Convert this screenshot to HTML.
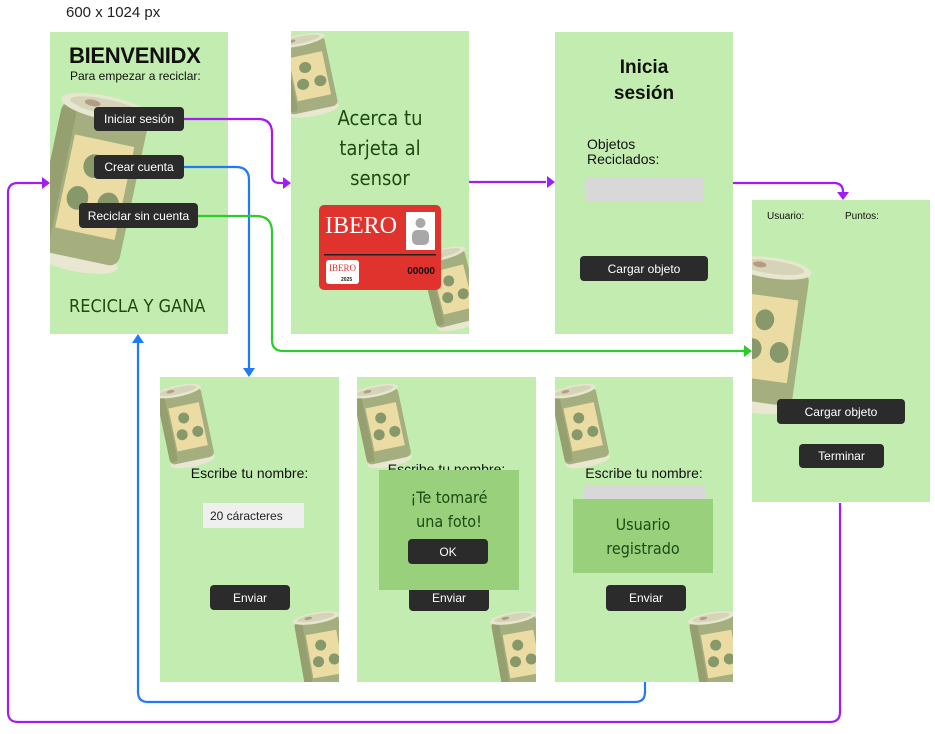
<!DOCTYPE html>
<html><head><meta charset="utf-8"><style>
*{margin:0;padding:0;box-sizing:border-box}
body{width:935px;height:734px;background:#fff;position:relative;overflow:hidden;font-family:"Liberation Sans","DejaVu Sans",sans-serif}
.scr{position:absolute;background:#c3edb0;overflow:hidden}
.scr svg.bg{position:absolute;left:0;top:0}
.t{position:absolute;white-space:nowrap}
.btn{position:absolute;background:#2b2b2b;color:#fff;border-radius:4px;font-size:12px;display:flex;align-items:center;justify-content:center}
.dg{color:#1e4a14;font-family:"DejaVu Sans Condensed","DejaVu Sans",sans-serif}
</style></head><body>
<svg width="0" height="0" style="position:absolute"><defs>
<g id="can">
<ellipse cx="50" cy="158" rx="45" ry="11" fill="#e9e6d2"/>
<rect x="5" y="15" width="90" height="142" rx="10" fill="#a5ae7e"/>
<rect x="5" y="20" width="16" height="132" rx="6" fill="#959f70"/>
<rect x="24" y="45" width="62" height="88" fill="#ebdca4"/>
<circle cx="50" cy="70" r="11" fill="#87986a"/>
<circle cx="40" cy="102" r="11" fill="#87986a"/>
<circle cx="72" cy="102" r="11" fill="#87986a"/>
<ellipse cx="50" cy="15" rx="47" ry="11" fill="#e7e6cf"/>
<ellipse cx="50" cy="14" rx="38" ry="7" fill="#d6d4b8"/>
<ellipse cx="35" cy="13" rx="8" ry="3" fill="#b59a84"/>
</g></defs></svg>

<div class="t" style="left:66px;top:4px;font-size:15px;color:#222">600 x 1024 px</div>

<!-- S1 -->
<div class="scr" style="left:50px;top:32px;width:178px;height:302px">
<svg class="bg" width="178" height="302"><use href="#can" transform="translate(12,50) rotate(12) scale(0.98,1.08)"/></svg>
<div class="t" style="left:19px;top:11px;font-size:22px;font-weight:bold;color:#111;letter-spacing:-0.3px">BIENVENIDX</div>
<div class="t" style="left:20px;top:37px;font-size:12px;color:#111">Para empezar a reciclar:</div>
<div class="btn" style="left:44px;top:75px;width:90px;height:24px">Iniciar sesión</div>
<div class="btn" style="left:44px;top:123px;width:90px;height:24px">Crear cuenta</div>
<div class="btn" style="left:29px;top:171px;width:119px;height:25px">Reciclar sin cuenta</div>
<div class="t dg" style="left:19px;top:264px;font-size:18px">RECICLA Y GANA</div>
</div>

<!-- S2 -->
<div class="scr" style="left:291px;top:31px;width:178px;height:303px">
<svg class="bg" width="178" height="303">
<use href="#can" transform="translate(-20,8) rotate(-12) scale(0.55,0.5)"/>
<use href="#can" transform="translate(125,222) rotate(-14) scale(0.5,0.5)"/>
<rect x="28" y="174" width="122" height="85" rx="5" fill="#e0332d"/>
<text x="34" y="202" font-family="Liberation Serif,serif" font-size="24" fill="#fff">IBERO</text>
<rect x="115" y="181" width="29" height="38" fill="#fff"/>
<circle cx="129.5" cy="192" r="5" fill="#a8a8a8"/><rect x="121" y="199" width="17" height="15" rx="5" fill="#a8a8a8"/>
<rect x="33" y="223" width="112" height="1.5" fill="#222"/>
<rect x="35" y="229" width="33" height="24" rx="3" fill="#fff"/>
<text x="38" y="240" font-family="Liberation Serif,serif" font-size="9" fill="#e0332d">IBERO</text>
<text x="50" y="250" font-size="5" font-weight="bold" fill="#222">2025</text>
<text x="144" y="243" text-anchor="end" font-size="10" font-weight="bold" fill="#111">00000</text>
</svg>
<div class="t dg" style="left:0;width:178px;text-align:center;top:72px;font-size:20px;line-height:30px;white-space:normal">Acerca tu<br>tarjeta al<br>sensor</div>
</div>

<!-- S3 -->
<div class="scr" style="left:555px;top:32px;width:178px;height:302px">
<div class="t" style="left:0;width:178px;text-align:center;top:23px;font-size:19px;font-weight:bold;line-height:26px;color:#111">Inicia<br>sesión</div>
<div class="t" style="left:32px;top:105px;font-size:14px;line-height:15px;color:#111">Objetos<br>Reciclados:</div>
<div style="position:absolute;left:31px;top:146px;width:117px;height:24px;background:#d8d8d8"></div>
<div class="btn" style="left:25px;top:224px;width:128px;height:25px">Cargar objeto</div>
</div>

<!-- S4 -->
<div class="scr" style="left:752px;top:200px;width:178px;height:302px">
<svg class="bg" width="178" height="302"><use href="#can" transform="translate(-20,48) rotate(8) scale(0.85,0.95)"/></svg>
<div class="t" style="left:15px;top:11px;font-size:10px;color:#111">Usuario:</div>
<div class="t" style="left:93px;top:11px;font-size:10px;color:#111">Puntos:</div>
<div class="btn" style="left:25px;top:199px;width:128px;height:25px">Cargar objeto</div>
<div class="btn" style="left:47px;top:244px;width:85px;height:24px">Terminar</div>
</div>

<!-- S5 -->
<div class="scr" style="left:160px;top:377px;width:179px;height:305px">
<svg class="bg" width="179" height="305">
<use href="#can" transform="translate(-8,12) rotate(-12) scale(0.5,0.5)"/>
<use href="#can" transform="translate(130,238) rotate(-10) scale(0.5,0.5)"/>
</svg>
<div class="t" style="left:0;width:179px;text-align:center;top:88px;font-size:14px;color:#111">Escribe tu nombre:</div>
<div style="position:absolute;left:43px;top:126px;width:101px;height:25px;background:#efefef;font-size:12px;color:#222;padding:6px 0 0 7px">20 cáracteres</div>
<div class="btn" style="left:50px;top:208px;width:80px;height:25px">Enviar</div>
</div>

<!-- S6 -->
<div class="scr" style="left:357px;top:377px;width:179px;height:305px">
<svg class="bg" width="179" height="305">
<use href="#can" transform="translate(-8,12) rotate(-12) scale(0.5,0.5)"/>
<use href="#can" transform="translate(130,238) rotate(-10) scale(0.5,0.5)"/>
</svg>
<div class="t" style="left:0;width:179px;text-align:center;top:84px;font-size:14px;color:#111">Escribe tu nombre:</div>
<div class="btn" style="left:52px;top:208px;width:80px;height:26px">Enviar</div>
<div style="position:absolute;left:22px;top:93px;width:140px;height:120px;background:#98d07c"></div>
<div class="t dg" style="left:22px;width:140px;text-align:center;top:109px;font-size:16px;line-height:24px">¡Te tomaré<br>una foto!</div>
<div class="btn" style="left:51px;top:162px;width:80px;height:25px">OK</div>
</div>

<!-- S7 -->
<div class="scr" style="left:555px;top:377px;width:178px;height:305px">
<svg class="bg" width="178" height="305">
<use href="#can" transform="translate(-8,12) rotate(-12) scale(0.5,0.5)"/>
<use href="#can" transform="translate(130,238) rotate(-10) scale(0.5,0.5)"/>
</svg>
<div class="t" style="left:0;width:178px;text-align:center;top:88px;font-size:14px;color:#111">Escribe tu nombre:</div>
<div style="position:absolute;left:29px;top:108px;width:121px;height:15px;background:#d8d8d8"></div>
<div style="position:absolute;left:18px;top:122px;width:140px;height:74px;background:#98d07c"></div>
<div class="t dg" style="left:18px;width:140px;text-align:center;top:136px;font-size:16px;line-height:24px">Usuario<br>registrado</div>
<div class="btn" style="left:51px;top:208px;width:80px;height:26px">Enviar</div>
</div>

<!-- connectors -->
<svg width="935" height="734" style="position:absolute;left:0;top:0" fill="none" stroke-width="2.2">
<g stroke="#a21cf5">
<path d="M184 119 H258 Q272 119 272 133 V176 Q272 183 280 183 H284"/>
<path d="M469 182 H546"/>
<path d="M733 183 H834 Q843 183 843 192 V194"/>
<path d="M840 503 V712 Q840 722 830 722 H18 Q8 722 8 712 V193 Q8 183 18 183 H42"/>
</g>
<g fill="#a21cf5">
<path d="M291 183 L283 177 L283 189Z"/><path d="M555 182 L547 176 L547 188Z"/>
<path d="M843 200 L837 192 L849 192Z"/><path d="M50 183 L42 177 L42 189Z"/>
</g>
<g stroke="#1e7bf5">
<path d="M184 167 H236 Q249 167 249 180 V368"/>
<path d="M645 682 V692 Q645 702 635 702 H148 Q138 702 138 692 V342"/>
</g>
<g fill="#1e7bf5"><path d="M249 377 L243 368 L255 368Z"/><path d="M138 334 L132 343 L144 343Z"/></g>
<path stroke="#2ccc2c" d="M198 216 H256 Q272 216 272 232 V340 Q272 351 283 351 H744"/>
<path fill="#2ccc2c" d="M752 351 L744 345 L744 357Z"/>
</svg>
</body></html>
